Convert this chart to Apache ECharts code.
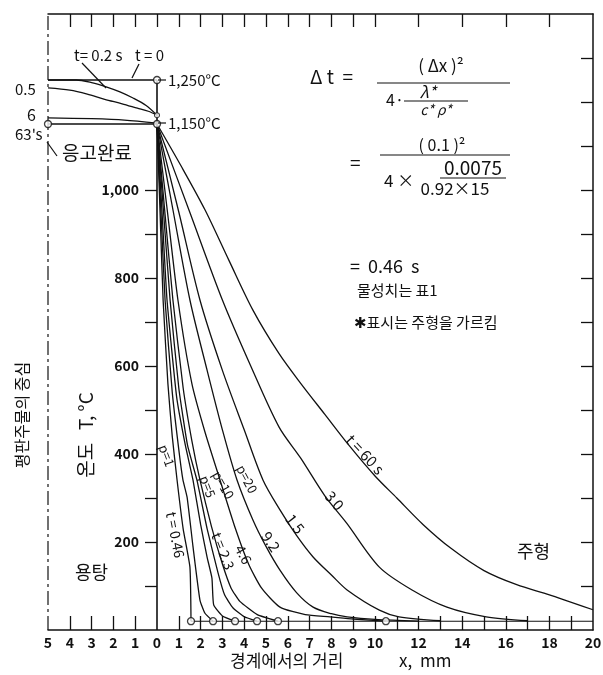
<!DOCTYPE html>
<html><head><meta charset="utf-8">
<script src="https://cdn.jsdelivr.net/npm/echarts@6/dist/echarts.min.js"></script>
<style>html,body{margin:0;padding:0;background:#fff}#c{width:603px;height:675px}</style>
</head><body><div id="c"></div>
<script>
// ---- tick / label values ----
const xLabelValues = [-5,-4,-3,-2,-1,0,1,2,3,4,5,6,7,8,9,10,12,14,16,18,20];
const xBottomTicks = [-4,-3,-2,-1,1,2,3,4,5,6,7,8,9,10,11,12,13,14,15,16,17,18,19];
const xTopTicks = [-4,-3,-2,-1,0,1,2,3,4,5,6,7,8,9,10,12,14,16,18];
const yTickValues = [100,200,300,400,500,600,700,800,900,1000];
const yLabelValues = [200,400,600,800,1000];
const yRightTicks = [100,200,300,400,500,600,700,800,900,1000,1100,1200,1300];

// ---- melt side (x < 0) ----
const t0X = [-5, 0],                 t0T = [1250, 1250];
const t02X = [-5,-3.7,-3,-2.3,-1.7,-1.1,-0.5,0];
const t02T = [1250,1250,1244,1234,1223,1209,1192,1170];
const t05X = [-5,-4,-3.2,-2.4,-1.6,-0.9,-0.4,0];
const t05T = [1232,1227,1218,1206,1196,1186,1179,1170];
const t6X = [-5,-3,-1.5,0],          t6T = [1164,1162,1159,1152];
const t63X = [-5, 0],                t63T = [1150, 1150];
const ifaceX = [0, 0],               ifaceT = [0, 1250];

// ---- mould side (x > 0) ----
const p1X = [0,0.14,0.28,0.5,0.7,0.92,1.2,1.51,1.56];
const p1T = [1150,950,750,560,440,341,230,143,20];
const p2X = [0,0.18,0.37,0.7,1.0,1.19,1.38,1.65,1.97,2.2,2.57];
const p2T = [1150,950,750,540,410,341,302,190,68,38,20];
const p3X = [0,0.23,0.46,0.9,1.3,1.65,2.0,2.3,2.52,2.6,3.0,3.58];
const p3T = [1150,950,750,530,420,341,240,165,118,57,32,20];
const p4X = [0,0.3,0.6,1.0,1.4,1.83,2.3,2.8,3.1,3.49,4.0,4.59];
const p4T = [1150,950,750,550,420,341,230,130,80,50,30,20];
const p5X = [0,0.36,0.73,1.2,1.6,1.97,2.5,3.0,3.4,3.8,4.6,5.55];
const p5T = [1150,950,750,550,430,341,235,150,95,65,35,20];
const p10X = [0,0.48,0.96,1.6,2.2,2.89,3.6,4.2,4.8,5.64,6.8,7.94,9.0,10.5];
const p10T = [1150,950,750,560,450,341,230,150,95,52,35,30,25,20];
const p20X = [0,0.75,1.51,2.3,3.0,3.67,4.4,5.0,5.64,6.4,7.16,8.0,8.72,10,12];
const p20T = [1150,950,750,590,455,341,250,190,136,85,52,37,30,24,20];
const t15X = [0,1.0,1.97,3.0,4.0,4.86,5.64,6.4,7.16,8.0,8.72,10.2,11.1,13];
const t15T = [1150,950,750,590,455,341,273,215,166,125,91,45,30,21];
const t30X = [0,1.5,3.0,4.3,5.6,6.6,7.7,8.7,10.2,11.7,13.3,15.1,17];
const t30T = [1150,950,750,600,461,390,305,243,143,91,52,30,21];
const t60X = [0,1.1,2.2,3.3,4.4,5.6,6.6,7.7,8.8,10,11,12.2,13.5,15,16.5,18,20];
const t60T = [1150,1055,955,840,727,628,560,490,420,350,300,240,185,135,103,80,46];
const baseX = [1.56, 20],            baseT = [20, 20];
const centerX = [-5, -5],            centerT = [0, 1400];

// ---- marker circles ----
const circX = [0, 0, -5, 1.56, 2.57, 3.58, 4.59, 5.55, 10.5];
const circT = [1250, 1150, 1150, 20, 20, 20, 20, 20, 20];
const smallCircX = [0], smallCircT = [1170];

const FONT = '"Noto Sans CJK KR","DejaVu Sans",sans-serif';
const INK = '#111';
const pts = (xs, ts) => xs.map((x, i) => [x, ts[i]]);

function lineSeries(xs, ts, opt = {}) {
  return {
    type: 'line', data: pts(xs, ts), showSymbol: false, silent: true,
    smooth: opt.smooth === undefined ? 0.3 : opt.smooth,
    lineStyle: { color: INK, width: opt.width || 1.3, type: opt.type || 'solid' },
    z: opt.z || 2
  };
}

const series = [
  lineSeries(centerX, centerT, { smooth: false, width: 1.2, type: [14, 4, 3, 4] }),
  lineSeries(ifaceX, ifaceT, { smooth: false, width: 1.6 }),
  lineSeries(t0X, t0T, { smooth: false }),
  lineSeries(t02X, t02T), lineSeries(t05X, t05T), lineSeries(t6X, t6T),
  lineSeries(t63X, t63T, { smooth: false, width: 1.5 }),
  lineSeries(p1X, p1T, { smooth: 0.15 }), lineSeries(p2X, p2T, { smooth: 0.15 }),
  lineSeries(p3X, p3T, { smooth: 0.15 }), lineSeries(p4X, p4T, { smooth: 0.15 }),
  lineSeries(p5X, p5T, { smooth: 0.15 }), lineSeries(p10X, p10T, { smooth: 0.2 }),
  lineSeries(p20X, p20T), lineSeries(t15X, t15T), lineSeries(t30X, t30T), lineSeries(t60X, t60T),
  lineSeries(baseX, baseT, { smooth: false, width: 1.1 }),
  { type: 'scatter', data: pts(circX, circT), symbol: 'circle', symbolSize: 7, silent: true, z: 5,
    itemStyle: { color: '#fff', borderColor: INK, borderWidth: 1.3 } },
  { type: 'scatter', data: pts(smallCircX, smallCircT), symbol: 'circle', symbolSize: 5, silent: true, z: 5,
    itemStyle: { color: '#fff', borderColor: INK, borderWidth: 1.1 } }
];

function T(x, y, text, size, o = {}) {
  const align = o.align || 'left';
  return { type: 'text', x, y, rotation: o.rot || 0, silent: true, z: 100,
    style: { text, fill: INK, font: `${o.style || 'normal'} ${o.weight || 'normal'} ${size}px ${FONT}`,
      align, verticalAlign: 'middle', textAlign: align, textVerticalAlign: 'middle' } };
}
function L(x1, y1, x2, y2, w) {
  return { type: 'line', silent: true, z: 100, shape: { x1, y1, x2, y2 }, style: { stroke: INK, lineWidth: w || 1.2 } };
}

const graphics = [
  // top-left annotations
  T(74, 55, 't= 0.2 s', 15), T(135, 55, 't = 0', 15),
  L(82, 63, 106, 88), L(139, 64, 132, 78),
  T(15, 89, '0.5', 15), T(27, 115, '6', 16), T(15, 134, "63's", 15),
  L(47, 142, 57, 156), T(62, 153, '응고완료', 19),
  L(158, 80, 166, 80), T(168, 80, '1,250°C', 15),
  L(158, 123, 166, 123), T(168, 123, '1,150°C', 15),
  // formula
  T(310, 77, 'Δ t  =', 19), T(441, 66, '( Δx )²', 17, { align: 'center' }),
  L(377, 83, 510, 83), T(386, 100, '4·', 16),
  T(428, 92, 'λ*', 16, { align: 'center', style: 'italic' }),
  L(404, 101, 468, 101), T(436, 110, 'c* ρ*', 14, { align: 'center', style: 'italic' }),
  T(350, 163, '=', 19), T(442, 145, '( 0.1 )²', 16, { align: 'center' }),
  L(380, 155, 510, 155), T(384, 181, '4 ×', 17),
  T(473, 168, '0.0075', 19, { align: 'center' }), L(440, 178, 506, 178),
  T(455, 189, '0.92×15', 17, { align: 'center' }),
  T(350, 266, '=  0.46  s', 18),
  T(357, 290, '물성치는 표1', 15), T(354, 322, '✱표시는 주형을 가르킴', 15),
  T(517, 551, '주형', 18), T(75, 572, '용탕', 18),
  // axis titles
  T(230, 661, '경계에서의 거리', 17), T(399, 661, 'x,  mm', 17),
  T(86, 435, '온도   T, °C', 19, { align: 'center', rot: Math.PI / 2 }),
  T(22, 415, '평판주물의 중심', 16, { align: 'center', rot: Math.PI / 2 }),
  // curve labels
  T(349, 437, 't = 60 s', 15, { rot: -0.82 }),
  T(328, 493, '3 0', 15, { rot: -0.87 }),
  T(289, 516, '1 5', 15, { rot: -0.9 }),
  T(265, 533, '9.2', 15, { rot: -0.98 }),
  T(239, 546, '4.6', 14, { rot: -1.08 }),
  T(216, 533, 't = 2.3', 14, { rot: -1.19 }),
  T(171, 512, 't = 0.46', 14, { rot: -1.38 }),
  T(163, 445, 'p=1', 13, { rot: -1.22 }),
  T(204, 476, 'p=5', 13, { rot: -1.22 }),
  T(216, 472, 'p=10', 13, { rot: -1.05 }),
  T(240, 466, 'p=20', 13, { rot: -1.08 })
];

const chart = echarts.init(document.getElementById('c'), null, { renderer: 'canvas' });
chart.setOption({
  animation: false,
  backgroundColor: '#fff',
  grid: { left: 48, right: 10, top: 14, bottom: 45, containLabel: false, outerBoundsMode: 'none' },
  xAxis: [
    { type: 'value', min: -5, max: 20, interval: 1, position: 'bottom',
      axisLine: { show: true, onZero: false, lineStyle: { color: INK, width: 1.5 } },
      axisTick: { show: true, inside: true, length: 14, customValues: xBottomTicks, lineStyle: { color: INK, width: 1.3 } },
      axisLabel: { customValues: xLabelValues, margin: 6, color: INK, fontSize: 14, fontWeight: 'bold', fontFamily: FONT,
        formatter: v => (v > 10 && v % 2 !== 0) ? '' : String(Math.abs(v)) },
      splitLine: { show: false } },
    { type: 'value', min: -5, max: 20, interval: 1, position: 'top',
      axisLine: { show: true, onZero: false, lineStyle: { color: INK, width: 1.5 } },
      axisTick: { show: true, inside: true, length: 13, customValues: xTopTicks, lineStyle: { color: INK, width: 1.3 } },
      axisLabel: { show: false }, splitLine: { show: false } }
  ],
  yAxis: [
    { type: 'value', min: 0, max: 1400, interval: 100, position: 'left', offset: -109,
      axisLine: { show: false, onZero: false },
      axisTick: { show: true, inside: false, length: 12, customValues: yTickValues, lineStyle: { color: INK, width: 1.3 } },
      axisLabel: { customValues: yLabelValues, margin: 18, color: INK, fontSize: 14, fontWeight: 'bold', fontFamily: FONT,
        formatter: v => (v % 200 === 0 && v >= 200 && v <= 1000) ? v.toLocaleString('en-US') : '' },
      splitLine: { show: false } },
    { type: 'value', min: 0, max: 1400, interval: 100, position: 'right',
      axisLine: { show: true, onZero: false, lineStyle: { color: INK, width: 1.5 } },
      axisTick: { show: true, inside: true, length: 12, customValues: yRightTicks, lineStyle: { color: INK, width: 1.3 } },
      axisLabel: { show: false }, splitLine: { show: false } }
  ],
  series,
  graphic: graphics
});
</script>
</body></html>
